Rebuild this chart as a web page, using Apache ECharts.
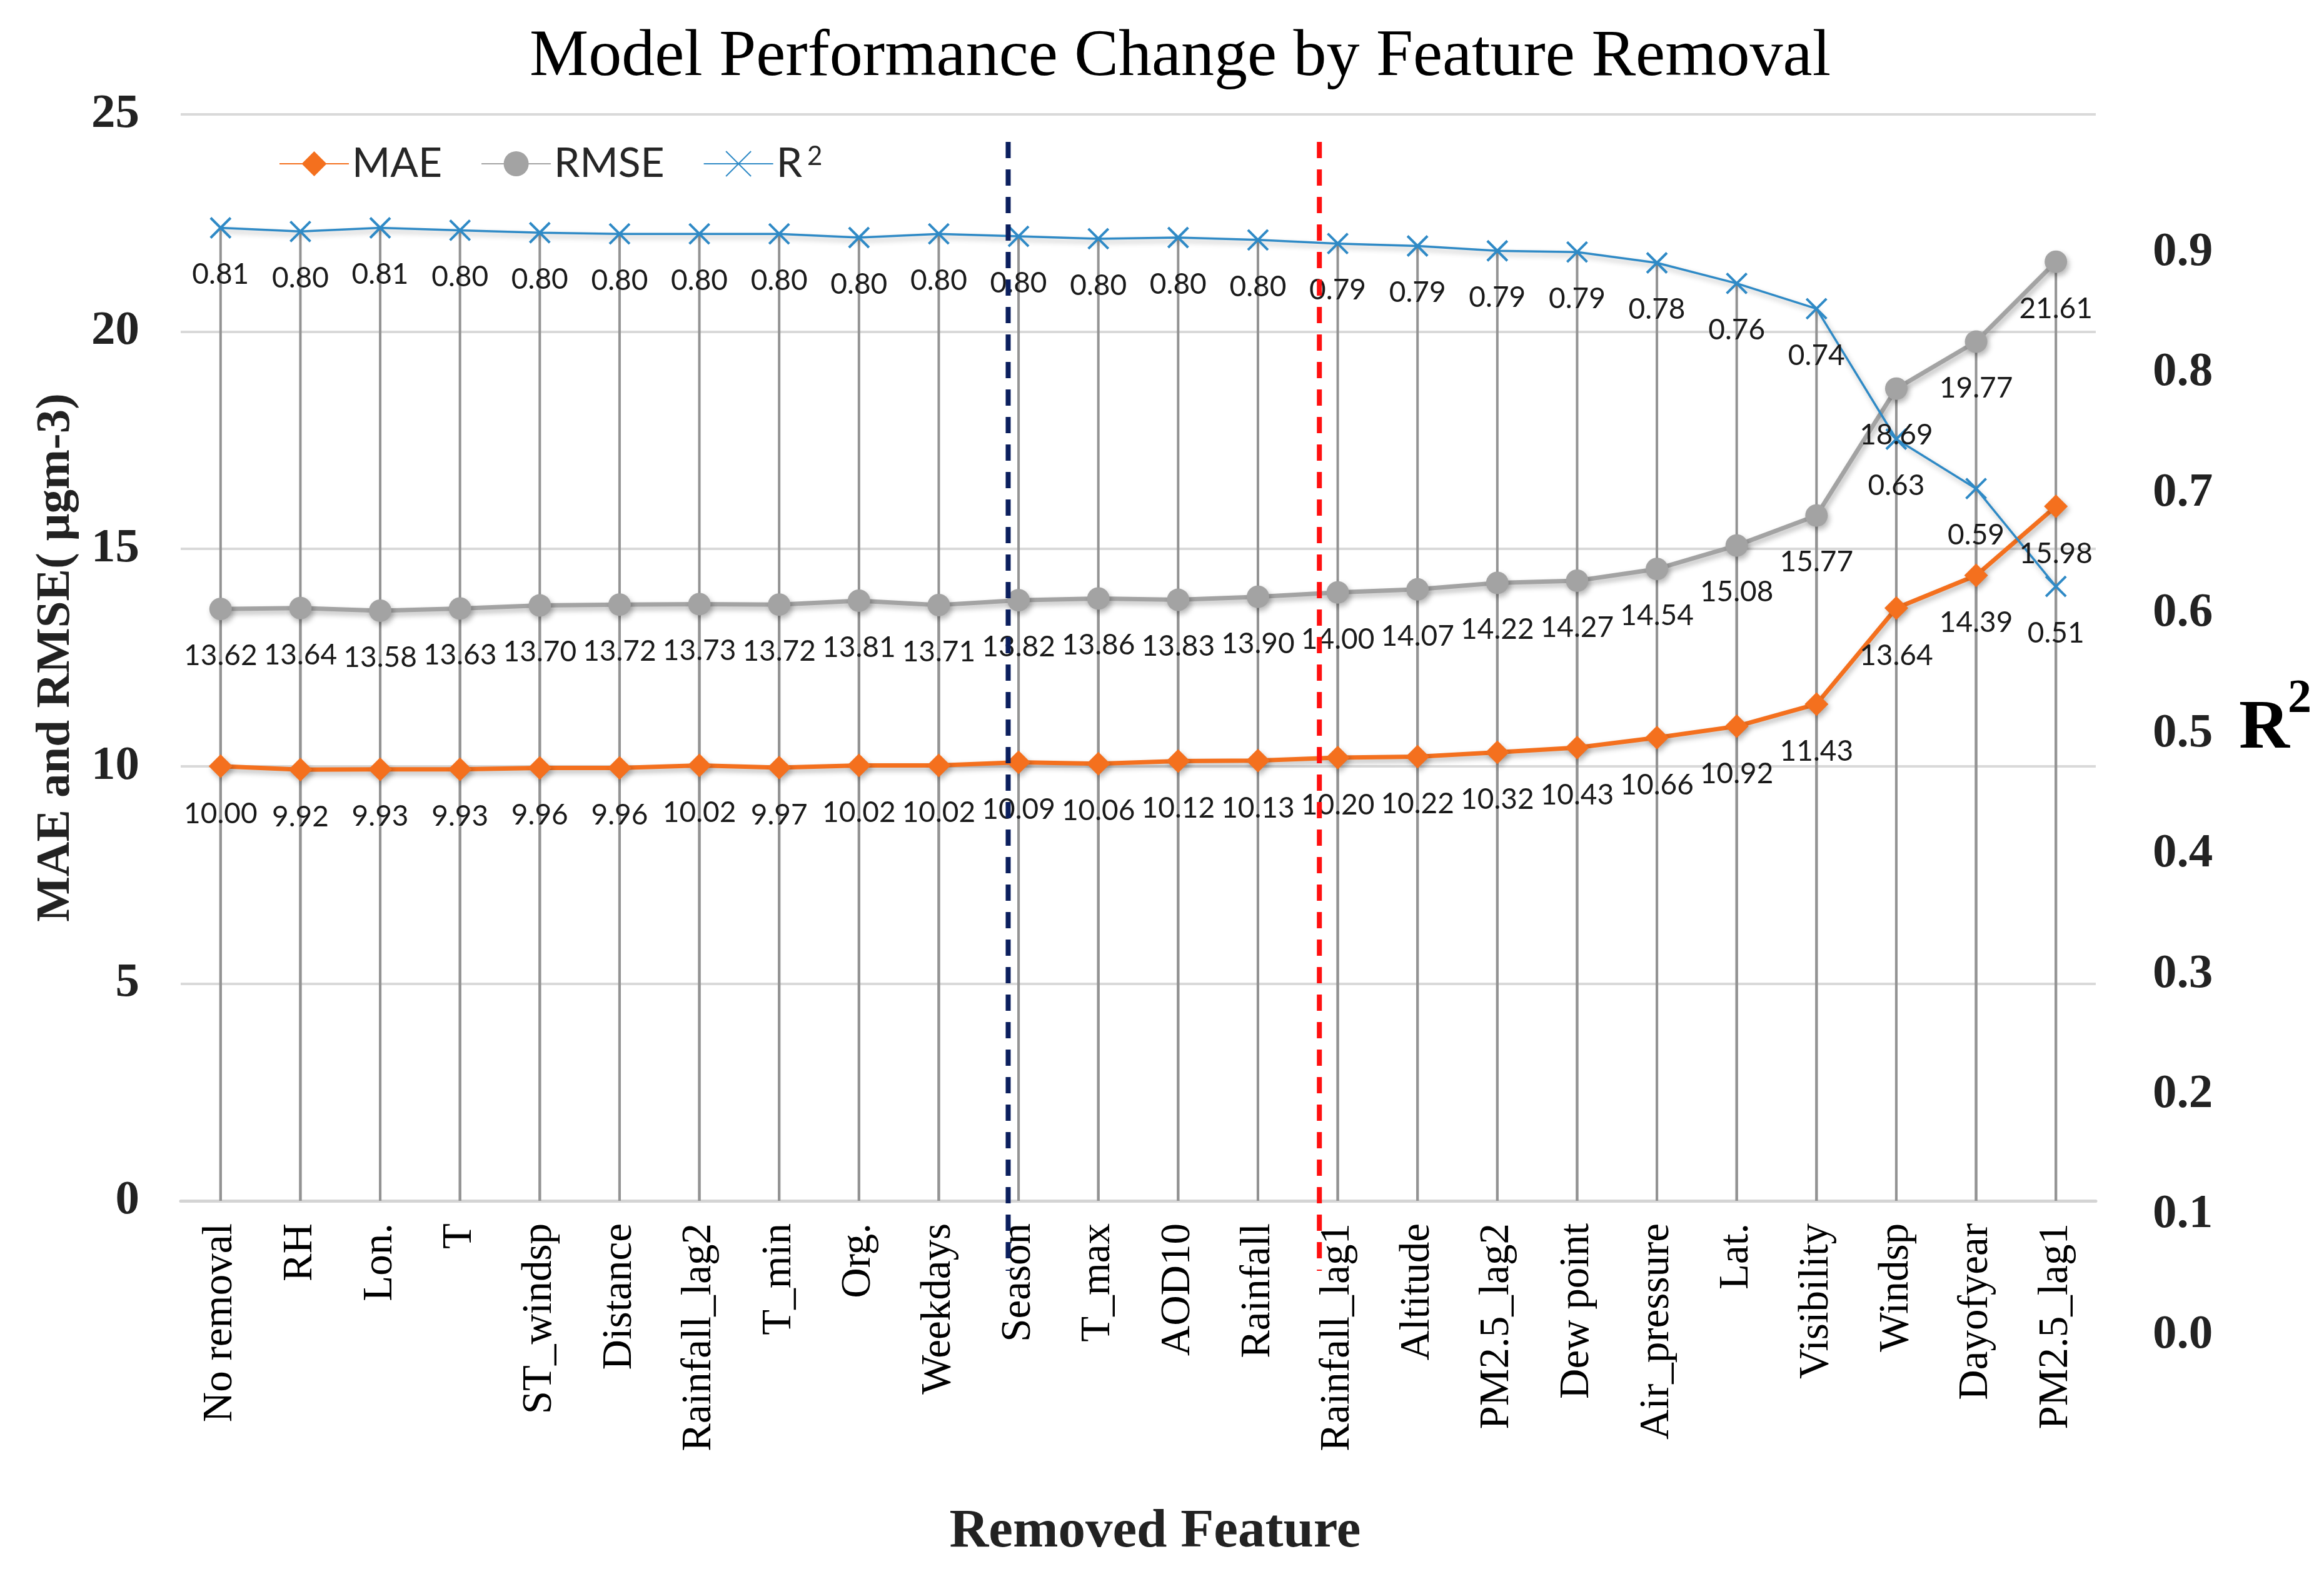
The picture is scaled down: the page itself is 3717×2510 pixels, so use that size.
<!DOCTYPE html>
<html>
<head>
<meta charset="utf-8">
<script src="https://cdn.jsdelivr.net/npm/echarts@6/dist/echarts.min.js"></script>
<style>
html,body{margin:0;padding:0;background:#ffffff;}
#chart{width:3717px;height:2510px;}
</style>
</head>
<body>
<div id="chart"></div>
<script>
// ---------------- data ----------------
const categories = ['No removal','RH','Lon.','T','ST_windsp','Distance','Rainfall_lag2','T_min','Org.','Weekdays','Season','T_max','AOD10','Rainfall','Rainfall_lag1','Altitude','PM2.5_lag2','Dew point','Air_pressure','Lat.','Visibility','Windsp','Dayofyear','PM2.5_lag1'];
const maeValues = [10.00,9.92,9.93,9.93,9.96,9.96,10.02,9.97,10.02,10.02,10.09,10.06,10.12,10.13,10.20,10.22,10.32,10.43,10.66,10.92,11.43,13.64,14.39,15.98];
const rmseValues = [13.62,13.64,13.58,13.63,13.70,13.72,13.73,13.72,13.81,13.71,13.82,13.86,13.83,13.90,14.00,14.07,14.22,14.27,14.54,15.08,15.77,18.69,19.77,21.61];
const r2Values = [0.806,0.803,0.806,0.804,0.802,0.801,0.801,0.801,0.798,0.801,0.799,0.797,0.798,0.796,0.793,0.791,0.787,0.786,0.777,0.760,0.739,0.631,0.590,0.509];
const leftAxisRange = [0, 25];
const leftAxisStep = 5;
const r2AxisRange = [0, 0.9];
const r2AxisStep = 0.1;
// separators between feature groups, in category-index units
const separatorPositions = [9.87, 13.77];
const separatorColors = ['#0B1F5E', '#FF1010'];

// ---------------- styles ----------------
const serif = 'Liberation Serif';
const sans = 'Lato';
const cMAE = '#F4701E';
const cRMSE = '#A3A3A3';
const cR2 = '#2F8AC6';
const labelStyle = {
  show: true, position: 'bottom', distance: 34,
  fontFamily: sans, fontSize: 46, color: '#1a1a1a',
  formatter: p => Number(p.value).toFixed(2)
};
const shadow = {shadowColor: 'rgba(0,0,0,0.28)', shadowBlur: 8, shadowOffsetX: 3, shadowOffsetY: 5};

const chart = echarts.init(document.getElementById('chart'), null, {renderer: 'canvas'});

const separatorSeries = separatorPositions.map((x, i) => ({
  type: 'line', xAxisIndex: 2, yAxisIndex: 3, silent: true, z: 20,
  symbol: 'none', animation: false,
  data: [[x, 1], [x, 0]],
  lineStyle: {color: separatorColors[i], width: 8, type: [26, 18]}
}));

const option = {
  backgroundColor: '#ffffff',
  animation: false,
  title: [
    {
      text: 'Model Performance Change by Feature Removal',
      left: 842, top: 34,
      textStyle: {fontFamily: serif, fontWeight: 'normal', fontSize: 106, color: '#000'}
    },
    {
      text: 'R',
      left: 3576, top: 1106,
      textStyle: {fontFamily: serif, fontWeight: 'bold', fontSize: 112, color: '#000'}
    },
    {
      text: '2',
      left: 3654, top: 1076,
      textStyle: {fontFamily: serif, fontWeight: 'bold', fontSize: 76, color: '#000'}
    }
  ],
  legend: {
    data: ['MAE', 'RMSE', 'R²'],
    left: 441, top: 224,
    itemWidth: 111, itemHeight: 50, itemGap: 62,
    formatter: n => n === 'R²' ? 'R{sup|2}' : n,
    textStyle: {
      fontFamily: sans, fontSize: 66, color: '#262626',
      rich: {sup: {fontFamily: sans, fontSize: 42, color: '#262626', verticalAlign: 'top', padding: [0, 0, 14, 8]}}
    }
  },
  grid: [
    {left: 289, right: 365, top: 183, bottom: 589},
    {left: 289, right: 365, top: 404, bottom: 374},
    {left: 289, right: 365, top: 227, bottom: 477}
  ],
  xAxis: [
    {
      type: 'category', gridIndex: 0, data: categories, boundaryGap: true,
      axisLine: {show: true, lineStyle: {color: '#D4D4D4', width: 5}},
      axisTick: {show: false},
      splitLine: {show: false},
      axisLabel: {rotate: 90, margin: 36, fontFamily: serif, fontSize: 67, color: '#000', interval: 0},
      name: 'Removed Feature', nameLocation: 'middle', nameGap: 487,
      nameTextStyle: {fontFamily: serif, fontWeight: 'bold', fontSize: 87, color: '#222', padding: [0, 0, 0, 54]}
    },
    {type: 'value', gridIndex: 1, show: false},
    {type: 'value', gridIndex: 2, min: -0.5, max: 23.5, show: false}
  ],
  yAxis: [
    {
      type: 'value', gridIndex: 0, position: 'left',
      min: leftAxisRange[0], max: leftAxisRange[1], interval: leftAxisStep,
      axisLine: {show: false}, axisTick: {show: false},
      splitLine: {show: true, lineStyle: {color: '#D9D9D9', width: 4}},
      axisLabel: {fontFamily: serif, fontWeight: 'bold', fontSize: 77, color: '#222', margin: 66},
      name: 'MAE and RMSE( μgm-3)', nameLocation: 'middle', nameGap: 160, nameRotate: 90,
      nameTextStyle: {fontFamily: serif, fontWeight: 'bold', fontSize: 77, color: '#222'}
    },
    {
      type: 'value', gridIndex: 0, position: 'right',
      min: r2AxisRange[0], max: r2AxisRange[1], show: false
    },
    {
      type: 'value', gridIndex: 1, position: 'right',
      min: r2AxisRange[0], max: r2AxisRange[1], interval: r2AxisStep,
      axisLine: {show: false}, axisTick: {show: false}, splitLine: {show: false},
      axisLabel: {fontFamily: serif, fontWeight: 'bold', fontSize: 77, color: '#222', margin: 91,
        formatter: v => v.toFixed(1)}
    },
    {type: 'value', gridIndex: 2, min: 0, max: 1, show: false}
  ],
  series: [
    {
      name: 'dropRMSE', type: 'bar', xAxisIndex: 0, yAxisIndex: 0, data: rmseValues,
      barWidth: 4, barGap: '-100%', silent: true, z: 1,
      itemStyle: {color: '#939393'}
    },
    {
      name: 'dropR2', type: 'bar', xAxisIndex: 0, yAxisIndex: 1, data: r2Values,
      barWidth: 4, barGap: '-100%', silent: true, z: 1,
      itemStyle: {color: '#939393'}
    },
    {
      name: 'MAE', type: 'line', xAxisIndex: 0, yAxisIndex: 0, data: maeValues, z: 4,
      symbol: 'diamond', symbolSize: 38,
      lineStyle: Object.assign({color: cMAE, width: 7}, shadow),
      itemStyle: Object.assign({color: cMAE}, shadow),
      label: labelStyle
    },
    {
      name: 'RMSE', type: 'line', xAxisIndex: 0, yAxisIndex: 0, data: rmseValues, z: 4,
      symbol: 'circle', symbolSize: 36,
      lineStyle: Object.assign({color: cRMSE, width: 7}, shadow),
      itemStyle: Object.assign({color: cRMSE}, shadow),
      label: labelStyle
    },
    {
      name: 'R²', type: 'line', xAxisIndex: 0, yAxisIndex: 1, data: r2Values, z: 4,
      symbol: 'path://M0,0L10,10M10,0L0,10', symbolSize: 32,
      lineStyle: Object.assign({color: cR2, width: 3.5}, shadow),
      itemStyle: {color: cR2, borderColor: cR2, borderWidth: 4},
      label: labelStyle
    }
  ].concat(separatorSeries)
};
chart.setOption(option);
</script>
</body>
</html>
